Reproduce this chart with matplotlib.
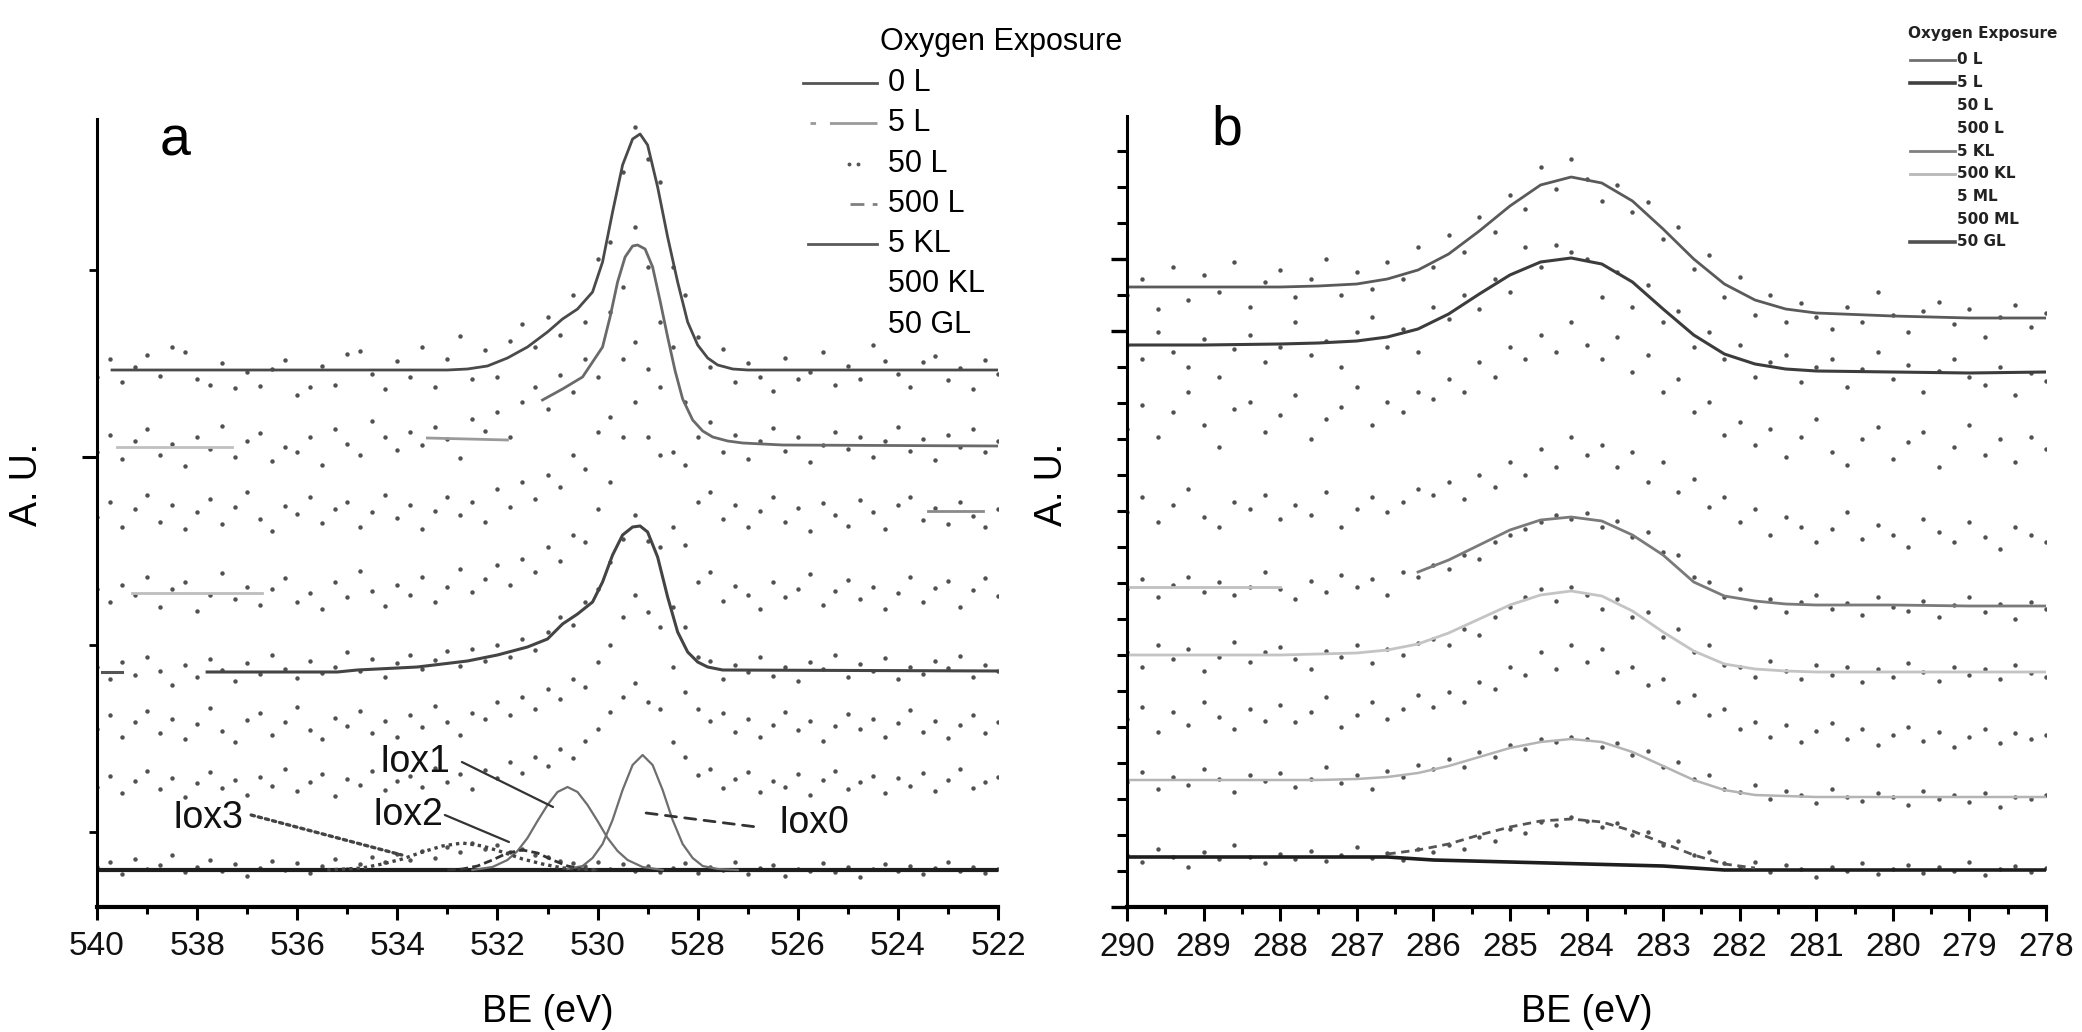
import numpy as np
import matplotlib
matplotlib.use("Agg")
import matplotlib.pyplot as plt
from matplotlib.lines import Line2D
from matplotlib.ticker import FixedLocator, MultipleLocator

plt.rcParams['font.family'] = ['Liberation Sans', 'DejaVu Sans']

# ---------------- DATA : panel a (O 1s) ----------------
a_energy = np.linspace(540.0, 522.0, 73)      # 0.25 eV steps
a_labels = ['0 L', '5 L', '50 L', '500 L', '5 KL', '500 KL', '50 GL']

a_s1 = [530, 548, 525, 540, 552, 531, 560, 555, 528, 522,
        544, 519, 535, 521, 538, 547, 512, 520, 541, 522,
        553, 556, 533, 518, 546, 530, 560, 520, 548, 571,
        528, 557, 530, 566, 583, 560, 590, 572, 612, 585,
        648, 665, 735, 780, 748, 725, 640, 612, 570, 540,
        558, 525, 544, 530, 516, 549, 528, 535, 555, 522,
        541, 528, 562, 546, 533, 520, 545, 551, 527, 539,
        518, 547, 533]
a_s2 = [455, 472, 448, 466, 478, 452, 463, 441, 470, 458,
        481, 450, 466, 474, 446, 460, 455, 470, 442, 478,
        463, 452, 486, 470, 457, 475, 462, 480, 468, 449,
        488, 476, 495, 470, 505, 520, 498, 532, 515, 548,
        530, 595, 620, 680, 640, 585, 560, 505, 470, 485,
        455, 472, 448, 466, 479, 456, 470, 445, 462, 475,
        458, 470, 450, 466, 480, 456, 468, 447, 472, 460,
        478, 455, 466]
a_s3 = [390, 405, 380, 398, 412, 385, 402, 378, 395, 408,
        383, 400, 415, 388, 376, 401, 393, 410, 384, 398,
        405, 380, 395, 412, 389, 402, 378, 396, 410, 392,
        405, 385, 418, 400, 425, 408, 432, 420, 452, 438,
        475, 490, 548, 565, 538, 520, 455, 442, 405, 415,
        388, 402, 380, 396, 410, 385, 399, 376, 404, 392,
        381, 407, 395, 378, 402, 410, 387, 399, 383, 405,
        391, 380, 398]
a_s4 = [318, 305, 322, 312, 330, 300, 318, 325, 296, 312,
        334, 308, 320, 302, 318, 329, 305, 314, 298, 325,
        310, 336, 316, 301, 322, 312, 330, 305, 320, 338,
        315, 328, 342, 322, 348, 335, 360, 346, 372, 365,
        398, 425, 470, 505, 470, 452, 380, 362, 325, 335,
        306, 321, 312, 298, 325, 310, 318, 333, 302, 316,
        327, 308, 320, 298, 314, 330, 305, 319, 326, 300,
        317, 329, 311]
a_s5 = [240, 228, 245, 232, 250, 236, 222, 242, 230, 248,
        237, 226, 244, 233, 252, 238, 229, 246, 234, 240,
        255, 236, 248, 230, 244, 252, 238, 247, 256, 241,
        258, 246, 262, 250, 268, 257, 275, 290, 282, 305,
        318, 345, 368, 392, 366, 360, 300, 280, 250, 246,
        228, 242, 235, 250, 231, 240, 226, 245, 238, 252,
        230, 243, 236, 249, 228, 240, 233, 246, 239, 251,
        230, 242, 236]
a_s6 = [178, 192, 170, 185, 196, 174, 188, 168, 183, 199,
        176, 165, 187, 194, 172, 185, 200, 177, 168, 189,
        181, 196, 174, 186, 170, 192, 180, 201, 185, 172,
        194, 188, 205, 192, 210, 198, 218, 208, 228, 220,
        245, 262, 290, 312, 295, 280, 240, 215, 198, 186,
        194, 175, 188, 170, 182, 195, 177, 186, 166, 181,
        193, 178, 188, 170, 184, 197, 175, 186, 169, 182,
        192, 174, 185]
a_s7 = [120, 131, 114, 126, 136, 118, 129, 110, 124, 135,
        119, 127, 112, 130, 121, 138, 116, 125, 133, 111,
        128, 122, 136, 117, 126, 131, 120, 139, 125, 133,
        118, 137, 129, 145, 134, 150, 141, 158, 149, 166,
        178, 195, 210, 224, 205, 198, 165, 150, 132, 138,
        119, 128, 135, 115, 126, 120, 133, 112, 127, 136,
        118, 125, 131, 114, 129, 121, 134, 116, 127, 138,
        119, 125, 130]
a_s8 = [40, 45, 33, 48, 38, 42, 52, 35, 40, 47,
        36, 43, 31, 39, 46, 37, 44, 34, 41, 48,
        38, 43, 50, 45, 53, 47, 56, 49, 60, 55,
        64, 58, 62, 55, 58, 52, 50, 46, 44, 41,
        45, 38, 43, 36, 41, 35, 39, 44, 34, 40,
        37, 45, 33, 39, 42, 31, 38, 36, 44, 35,
        40, 30, 38, 43, 36, 41, 33, 39, 45, 36,
        40, 34, 38]
a_dots = [a_s1, a_s2, a_s3, a_s4, a_s5, a_s6, a_s7, a_s8]

# fitted envelopes (BE, intensity)
a_fit1_E = [539.7, 533.0, 532.6, 532.2, 531.8, 531.4, 531.0, 530.7, 530.4, 530.1, 529.9, 529.7, 529.5,
            529.3, 529.15, 529.0, 528.8, 528.6, 528.4, 528.2, 528.0, 527.8, 527.6, 527.3, 527.0, 522.0]
a_fit1_I = [537, 537, 538, 541, 549, 560, 575, 588, 598, 615, 645, 695, 742,
            768, 773, 762, 720, 670, 625, 585, 562, 549, 542, 538, 537, 537]
a_fit2a_E = [539.6, 537.3]
a_fit2a_I = [460, 460]
a_fit2b_E = [533.4, 531.8]
a_fit2b_I = [469, 467]
a_fit2c_E = [531.1, 530.7, 530.3, 529.9, 529.75, 529.6, 529.45, 529.3, 529.2, 529.05, 528.9, 528.75,
             528.6, 528.45, 528.3, 528.1, 527.9, 527.7, 527.4, 527.1, 526.3, 522.0]
a_fit2c_I = [507, 518, 530, 560, 590, 625, 650, 661, 662, 658, 640, 606,
             570, 536, 508, 487, 476, 470, 466, 464, 462, 461]
a_fit3_E = [523.4, 522.3]
a_fit3_I = [396, 396]
a_fit4_E = [539.3, 536.7]
a_fit4_I = [314, 314]
a_fit5a_E = [539.9, 539.5]
a_fit5a_I = [235, 235]
a_fit5b_E = [537.8, 535.2, 534.8, 533.6, 532.6, 532.0, 531.4, 531.0, 530.7, 530.4, 530.1, 529.9, 529.7,
             529.5, 529.3, 529.15, 529.0, 528.8, 528.6, 528.4, 528.2, 528.0, 527.8, 527.5, 522.0]
a_fit5b_I = [235, 235, 237, 240, 246, 252, 260, 268, 283, 293, 305, 325, 352,
             372, 380, 381, 375, 350, 310, 275, 255, 245, 240, 237, 236]
a_base_E = [540.0, 522.0]
a_base_I = [37, 37]

# deconvoluted components (bottom)
iox0_E = [530.6, 530.3, 530.1, 529.9, 529.7, 529.5, 529.3, 529.1, 528.9, 528.7, 528.5, 528.3, 528.1, 527.9, 527.6, 527.2]
iox0_I = [38, 41, 49, 63, 87, 117, 142, 152, 142, 117, 87, 63, 49, 41, 38, 37]
iox1_E = [532.5, 532.1, 531.8, 531.6, 531.4, 531.2, 531.0, 530.8, 530.6, 530.4, 530.2, 530.0, 529.8, 529.6, 529.4, 529.1, 528.7]
iox1_I = [37, 40, 47, 56, 69, 86, 102, 115, 120, 115, 102, 86, 69, 56, 47, 40, 37]
iox2_E = [533.0, 532.7, 532.4, 532.1, 531.8, 531.5, 531.2, 530.9, 530.6, 530.3, 530.0]
iox2_I = [37, 38, 41, 47, 54, 57, 54, 47, 41, 38, 37]
iox3_E = [535.4, 534.7, 534.3, 533.9, 533.5, 533.1, 532.7, 532.3, 531.9, 531.5, 531.1, 530.7, 530.0]
iox3_I = [37, 39, 43, 48, 55, 61, 64, 61, 55, 48, 43, 39, 37]
iox_names = ['Iox0', 'Iox1', 'Iox2', 'Iox3']

# ---------------- DATA : panel b (C 1s) ----------------
b_energy = np.linspace(290.0, 278.0, 61)       # 0.2 eV steps
b_labels = ['0 L', '5 L', '50 L', '500 L', '5 KL', '500 KL', '5 ML', '500 ML', '50 GL']

b_s1 = [612, 628, 598, 640, 607, 632, 615, 645, 600, 625,
        637, 610, 628, 648, 612, 635, 618, 645, 628, 660,
        640, 672, 655, 690, 675, 712, 698, 740, 718, 748,
        728, 706, 722, 695, 705, 668, 680, 638, 652, 610,
        630, 592, 612, 585, 604, 590, 578, 600, 585, 615,
        592, 575, 596, 605, 583, 598, 570, 590, 602, 580, 594]
b_s2 = [562, 548, 575, 555, 540, 568, 530, 558, 572, 545,
        560, 585, 552, 566, 540, 575, 590, 560, 578, 555,
        600, 588, 612, 598, 628, 615, 660, 640, 662, 655,
        648, 610, 635, 600, 622, 585, 596, 560, 575, 548,
        562, 530, 545, 552, 525, 540, 548, 520, 538, 555,
        528, 542, 515, 536, 548, 530, 522, 540, 512, 534, 526]
b_s3 = [478, 502, 470, 495, 515, 482, 460, 498, 505, 475,
        492, 512, 468, 488, 500, 520, 482, 505, 495, 515,
        508, 528, 515, 545, 530, 560, 548, 572, 555, 585,
        562, 548, 570, 535, 552, 515, 528, 495, 505, 472,
        485, 462, 478, 450, 470, 488, 455, 442, 468, 480,
        448, 465, 475, 440, 460, 482, 452, 468, 445, 470, 458]
b_s4 = [395, 410, 385, 402, 418, 390, 380, 405, 398, 412,
        388, 402, 392, 415, 380, 398, 410, 395, 405, 418,
        412, 425, 408, 432, 420, 445, 432, 458, 440, 470,
        452, 462, 440, 455, 425, 445, 415, 428, 400, 410,
        385, 398, 372, 390, 380, 365, 378, 395, 368, 382,
        372, 360, 388, 375, 365, 385, 370, 358, 380, 372, 365]
b_s5 = [318, 328, 310, 322, 330, 315, 325, 312, 320, 335,
        318, 308, 326, 315, 332, 320, 328, 312, 335, 330,
        342, 338, 352, 348, 365, 372, 378, 385, 392, 388,
        394, 380, 386, 370, 375, 355, 352, 330, 325, 310,
        318, 300, 308, 295, 305, 312, 298, 304, 292, 310,
        300, 296, 306, 290, 302, 310, 295, 303, 288, 305, 298]
b_s6 = [255, 240, 262, 248, 258, 236, 250, 265, 245, 255,
        260, 248, 238, 256, 250, 262, 244, 258, 252, 264,
        268, 262, 278, 272, 290, 300, 310, 318, 306, 320,
        312, 298, 308, 290, 295, 270, 278, 255, 262, 242,
        240, 230, 246, 236, 228, 242, 232, 240, 225, 238,
        230, 244, 235, 226, 240, 232, 238, 228, 242, 234, 230]
b_s7 = [188, 200, 175, 195, 182, 205, 190, 178, 198, 186,
        202, 185, 195, 210, 180, 192, 205, 188, 198, 212,
        200, 215, 205, 225, 218, 240, 232, 255, 238, 262,
        245, 258, 235, 240, 222, 228, 205, 212, 192, 198,
        178, 185, 170, 182, 165, 176, 184, 168, 178, 162,
        172, 180, 166, 175, 160, 170, 178, 164, 174, 168, 172]
b_s8 = [125, 135, 118, 130, 122, 138, 128, 115, 132, 126,
        134, 120, 128, 140, 124, 132, 118, 136, 130, 142,
        138, 148, 140, 155, 150, 162, 158, 168, 165, 170,
        168, 160, 164, 152, 156, 140, 145, 128, 132, 118,
        115, 122, 108, 116, 112, 104, 118, 110, 106, 114,
        110, 102, 116, 108, 112, 105, 114, 100, 110, 108, 112]
b_s9 = [52, 45, 58, 50, 40, 55, 48, 62, 50, 44,
        53, 48, 56, 46, 52, 60, 49, 54, 47, 58,
        55, 62, 58, 70, 66, 78, 74, 85, 82, 90,
        86, 80, 84, 72, 75, 62, 66, 52, 55, 44,
        40, 45, 35, 42, 38, 30, 40, 36, 44, 33,
        38, 42, 34, 40, 36, 45, 32, 38, 41, 35, 39]
b_dots = [b_s1, b_s2, b_s3, b_s4, b_s5, b_s6, b_s7, b_s8, b_s9]

b_fit_E = [290, 289, 288, 287.5, 287, 286.6, 286.2, 285.8, 285.4, 285.0, 284.6, 284.2,
           283.8, 283.4, 283.0, 282.6, 282.2, 281.8, 281.4, 281, 280, 279, 278]
b_fit1 = [620, 620, 620, 621, 623, 628, 637, 653, 676, 701, 722, 730,
          724, 706, 678, 648, 623, 607, 598, 594, 591, 589, 589]
b_fit2 = [562, 562, 563, 564, 566, 570, 578, 593, 613, 632, 645, 649,
          643, 625, 598, 572, 553, 543, 538, 536, 535, 534, 535]
b_fit5 = [320, 320, 320, 321, 323, 327, 335, 347, 362, 377, 387, 390,
          386, 372, 352, 325, 311, 306, 303, 302, 302, 301, 301]
b_fit6 = [252, 252, 252, 253, 254, 257, 263, 274, 288, 302, 312, 316,
          311, 296, 275, 256, 243, 238, 236, 235, 235, 235, 235]
b_fit8 = [127, 127, 127, 127, 128, 130, 134, 141, 150, 159, 165, 168,
          165, 155, 141, 127, 117, 112, 111, 110, 110, 110, 110]
b_fit9 = [50, 50, 50, 50, 51, 53, 57, 63, 72, 80, 86, 88,
          85, 76, 64, 52, 43, 39, 38, 37, 37, 37, 37]
b_bg9_E = [290, 286.6, 286.0, 285.0, 284.0, 283.0, 282.2, 278]
b_bg9_I = [50, 50, 47, 45, 43, 41, 37, 37]

# ---------------- FIGURE ----------------
W, H = 2082, 1032
fig = plt.figure(figsize=(W / 100, H / 100), dpi=100)


def fx(px):
    return px / W


def fy(py):
    return 1 - py / H


axa = fig.add_axes([fx(97), fy(907), fx(998) - fx(97), fy(119) - fy(907)])
axb = fig.add_axes([fx(1127), fy(907), fx(2046) - fx(1127), fy(116) - fy(907)])

DOT = dict(ls='none', marker='o', ms=3.2, mfc='#333333', mec='none', alpha=0.85)

# ----- panel a -----
for s in a_dots:
    axa.plot(a_energy, s, **DOT)
axa.plot(a_fit1_E, a_fit1_I, color='#4a4a4a', lw=2.0)
axa.plot(a_fit2a_E, a_fit2a_I, color='#c0c0c0', lw=2.0)
axa.plot(a_fit2b_E, a_fit2b_I, color='#9a9a9a', lw=2.0)
axa.plot(a_fit2c_E, a_fit2c_I, color='#6a6a6a', lw=2.0)
axa.plot(a_fit3_E, a_fit3_I, color='#8a8a8a', lw=2.0)
axa.plot(a_fit4_E, a_fit4_I, color='#bdbdbd', lw=2.0)
axa.plot(a_fit5a_E, a_fit5a_I, color='#555555', lw=2.2)
axa.plot(a_fit5b_E, a_fit5b_I, color='#444444', lw=2.2)
axa.plot(a_base_E, a_base_I, color='#1e1e1e', lw=3.0)
axa.plot(iox0_E, iox0_I, color='#6e6e6e', lw=1.6)
axa.plot(iox1_E, iox1_I, color='#6e6e6e', lw=1.6)
axa.plot(iox2_E, iox2_I, color='#333333', lw=2.0, ls=(0, (3, 1.5)))
axa.plot(iox3_E, iox3_I, color='#444444', lw=2.4, ls=(0, (1, 1.2)))

# component labels with leader lines
TXT = dict(fontsize=27, color='#111111', ha='center', va='center')
axa.text(533.65, 145, iox_names[1], **TXT)
axa.text(533.79, 92, iox_names[2], **TXT)
axa.text(537.78, 89, iox_names[3], **TXT)
axa.text(525.68, 84, iox_names[0], **TXT)
axa.annotate('', xy=(530.89, 100), xytext=(532.71, 145),
             arrowprops=dict(arrowstyle='-', color='#333333', lw=1.6, shrinkA=0, shrinkB=0))
axa.annotate('', xy=(531.77, 65), xytext=(533.05, 92),
             arrowprops=dict(arrowstyle='-', color='#333333', lw=1.6, shrinkA=0, shrinkB=0))
axa.annotate('', xy=(533.91, 52), xytext=(536.92, 92),
             arrowprops=dict(arrowstyle='-', color='#444444', lw=2.4, ls=(0, (1, 1.2)),
                             shrinkA=0, shrinkB=0))
axa.annotate('', xy=(526.82, 80), xytext=(529.03, 94),
             arrowprops=dict(arrowstyle='-', color='#333333', lw=2.0, ls=(0, (4, 3)),
                             shrinkA=0, shrinkB=0))

axa.set_xlim(540, 522)
axa.set_ylim(0, 788)
axa.xaxis.set_major_locator(MultipleLocator(2))
axa.xaxis.set_minor_locator(MultipleLocator(1))
axa.yaxis.set_major_locator(FixedLocator([450]))
axa.yaxis.set_minor_locator(FixedLocator([75, 262.5, 637.5]))
axa.tick_params(axis='x', which='major', length=9.5, width=2.2, direction='out', labelsize=24, pad=8,
                labelcolor='#111111')
axa.tick_params(axis='x', which='minor', length=5, width=2.2, direction='out')
axa.tick_params(axis='y', which='major', length=11, width=2.2, direction='out', labelleft=False)
axa.tick_params(axis='y', which='minor', length=6, width=2.0, direction='out')
axa.text(0.087, 0.971, 'a', transform=axa.transAxes, fontsize=40, ha='center', va='center')

# ----- panel b -----
for s in b_dots:
    axb.plot(b_energy, s, **DOT)
axb.plot(b_fit_E, b_fit1, color='#5a5a5a', lw=2.0)
axb.plot(b_fit_E, b_fit2, color='#3c3c3c', lw=2.2)
axb.plot(b_fit_E[6:], b_fit5[6:], color='#7a7a7a', lw=2.0)
axb.plot(b_fit_E[0:3], b_fit5[0:3], color='#c0c0c0', lw=2.0)
axb.plot(b_fit_E, b_fit6, color='#c4c4c4', lw=2.0)
axb.plot(b_fit_E, b_fit8, color='#b4b4b4', lw=1.8)
axb.plot(b_bg9_E, b_bg9_I, color='#1e1e1e', lw=2.6)
axb.plot(b_fit_E[5:18], b_fit9[5:18], color='#555555', lw=2.0, ls=(0, (3, 2)))

axb.set_xlim(290, 278)
axb.set_ylim(0, 791)
axb.xaxis.set_major_locator(MultipleLocator(1))
axb.xaxis.set_minor_locator(MultipleLocator(0.5))
axb.yaxis.set_major_locator(FixedLocator([0, 576, 648]))
axb.yaxis.set_minor_locator(MultipleLocator(36))
axb.tick_params(axis='x', which='major', length=10, width=2.2, direction='out', labelsize=24, pad=8,
                labelcolor='#111111')
axb.tick_params(axis='x', which='minor', length=5, width=2.2, direction='out')
axb.tick_params(axis='y', which='major', length=11.5, width=2.4, direction='out', labelleft=False)
axb.tick_params(axis='y', which='minor', length=7, width=2.2, direction='out')
axb.text(0.109, 0.982, 'b', transform=axb.transAxes, fontsize=40, ha='center', va='center')

for ax, ylc in ((axa, (-0.0777, 0.536)), (axb, (-0.082, 0.534))):
    for sp in ('top', 'right'):
        ax.spines[sp].set_visible(False)
    ax.spines['left'].set_linewidth(2.2)
    ax.spines['bottom'].set_linewidth(3.0)
    ax.set_xlabel('BE (eV)', fontsize=27, va='center')
    ax.xaxis.set_label_coords(0.5, -0.133)
    ax.set_ylabel('A. U.', fontsize=27, va='center', ha='center')
    ax.yaxis.set_label_coords(*ylc)

# ----- legend a (manual) -----
fig.text(fx(880), fy(42), 'Oxygen Exposure', fontsize=22, ha='left', va='center')
a_rows = [83 + 40.3 * k for k in range(len(a_labels))]
for lab, ry in zip(a_labels, a_rows):
    fig.text(fx(888), fy(ry), lab, fontsize=22, ha='left', va='center')
fig.add_artist(Line2D([fx(803), fx(877)], [fy(a_rows[0])] * 2, color='#555555', lw=2.0))
fig.add_artist(Line2D([fx(810), fx(877)], [fy(a_rows[1])] * 2, color='#9a9a9a', lw=2.0,
                      ls=(0, (2, 5, 22, 1))))
fig.add_artist(Line2D([fx(849), fx(858)], [fy(a_rows[2])] * 2, ls='none', marker='o', ms=2.8,
                      mfc='#555555', mec='none'))
fig.add_artist(Line2D([fx(850), fx(877)], [fy(a_rows[3])] * 2, color='#808080', lw=2.0,
                      ls=(0, (5, 3))))
fig.add_artist(Line2D([fx(808), fx(877)], [fy(a_rows[4])] * 2, color='#5a5a5a', lw=2.0))

# ----- legend b (manual) -----
LB = dict(fontsize=11, fontweight='bold', family=['DejaVu Sans'], ha='left', va='center', color='#222222')
fig.text(fx(1908), fy(33), 'Oxygen Exposure', **LB)
b_rows = [60 + 22.75 * k for k in range(len(b_labels))]
for lab, ry in zip(b_labels, b_rows):
    fig.text(fx(1957), fy(ry), lab, **LB)
for idx, col, lw in ((0, '#707070', 2.0), (1, '#404040', 2.6), (4, '#808080', 2.0),
                     (5, '#b8b8b8', 2.0), (8, '#505050', 2.6)):
    fig.add_artist(Line2D([fx(1910), fx(1955)], [fy(b_rows[idx])] * 2, color=col, lw=lw))

fig.savefig('out.png', dpi=100)
